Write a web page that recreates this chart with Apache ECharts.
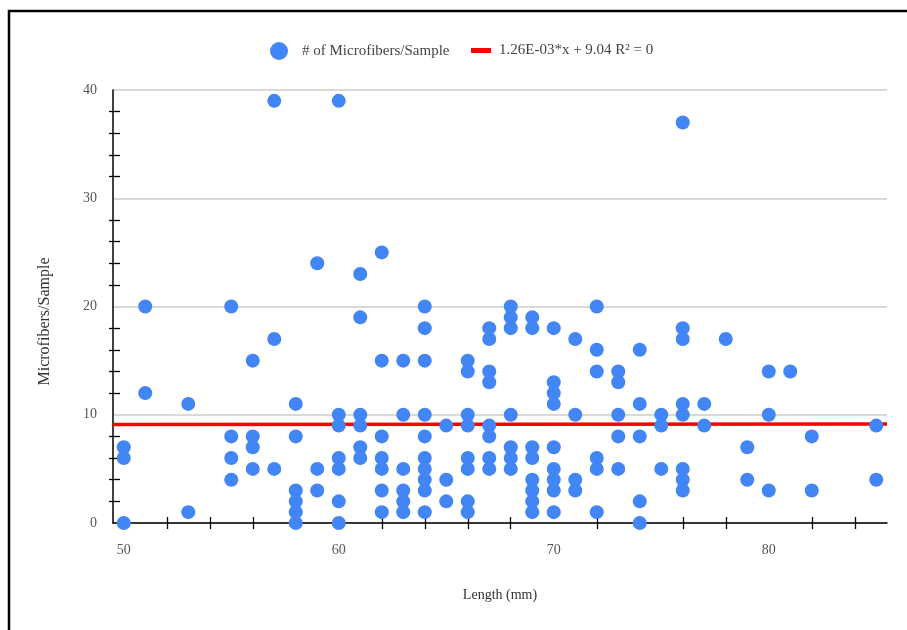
<!DOCTYPE html>
<html>
<head>
<meta charset="utf-8">
<script src="https://cdn.jsdelivr.net/npm/echarts@6/dist/echarts.min.js"></script>
<style>
  html, body { margin: 0; padding: 0; background: #fff; }
  #chart { width: 907px; height: 630px; }
</style>
</head>
<body>
<div id="chart"></div>
<script>
// Fiber length (mm) and the microfiber counts recorded for samples of that length
const lengthsMm = [50, 51, 53, 55, 56, 57, 58, 59, 60, 61, 62, 63, 64, 65, 66, 67,
                   68, 69, 70, 71, 72, 73, 74, 75, 76, 77, 78, 79, 80, 81, 82, 85];
const countsByLength = [
  [7, 6, 0],
  [20, 12],
  [11, 1],
  [20, 8, 6, 4],
  [15, 8, 7, 5],
  [39, 17, 5],
  [11, 8, 3, 2, 1, 0],
  [24, 5, 3],
  [39, 10, 9, 6, 5, 2, 0],
  [23, 19, 10, 9, 7, 6],
  [25, 15, 8, 6, 5, 3, 1],
  [15, 10, 5, 3, 2, 1],
  [20, 18, 15, 10, 8, 6, 5, 4, 3, 1],
  [9, 4, 2],
  [15, 14, 10, 9, 6, 5, 2, 1],
  [18, 17, 14, 13, 9, 8, 6, 5],
  [20, 19, 18, 10, 7, 6, 5],
  [19, 18, 7, 6, 4, 3, 2, 1],
  [18, 13, 12, 11, 7, 5, 4, 3, 1],
  [17, 10, 4, 3],
  [20, 16, 14, 6, 5, 1],
  [14, 13, 10, 8, 5],
  [16, 11, 8, 2, 0],
  [10, 9, 5],
  [37, 18, 17, 11, 10, 5, 4, 3],
  [11, 9],
  [17],
  [7, 4],
  [14, 10, 3],
  [14],
  [8, 3],
  [9, 4]
];

// Axis labels and minor tick positions
const xLabelValues = [50, 60, 70, 80];
const xTickValues = [52, 54, 56, 58, 62, 64, 66, 68, 72, 74, 76, 78, 82, 84];
const yTickValues = [2, 4, 6, 8, 12, 14, 16, 18, 22, 24, 26, 28, 32, 34, 36, 38];

// Linear trendline
const trendSlope = 1.26e-3;
const trendIntercept = 9.04;

const seriesName = '# of Microfibers/Sample';
const trendName = '1.26E-03*x + 9.04 R\u00b2 = 0';

const X_MIN = 49.5, X_MAX = 85.5, Y_MIN = 0, Y_MAX = 40;

const points = [];
lengthsMm.forEach(function (len, i) {
  countsByLength[i].forEach(function (c) { points.push([len, c]); });
});
const trendData = [X_MIN, X_MAX].map(function (x) {
  return [x, trendSlope * x + trendIntercept];
});

const FONT = '"Liberation Serif", "DejaVu Serif", serif';
const chart = echarts.init(document.getElementById('chart'), null, { renderer: 'canvas' });

// Tick-only helper axes draw the small ticks on both sides of the axis lines
function xTickAxis(inside) {
  return {
    type: 'value', min: X_MIN, max: X_MAX, position: 'bottom',
    axisLine: { show: false }, splitLine: { show: false }, axisLabel: { show: false },
    axisTick: { show: true, inside: inside, length: 6, customValues: xTickValues,
                lineStyle: { color: '#000', width: 1.3 } }
  };
}
function yTickAxis(inside) {
  return {
    type: 'value', min: Y_MIN, max: Y_MAX, position: 'left',
    axisLine: { show: false }, splitLine: { show: false }, axisLabel: { show: false },
    axisTick: { show: true, inside: inside, length: inside ? 7 : 4, customValues: yTickValues,
                lineStyle: { color: '#000', width: 1.3 } }
  };
}

chart.setOption({
  animation: false,
  backgroundColor: '#fff',
  textStyle: { fontFamily: FONT },
  graphic: [{
    type: 'rect', silent: true, z: 100,
    shape: { x: 9, y: 11, width: 1000, height: 700 },
    style: { fill: 'none', stroke: '#000', lineWidth: 2.5 }
  }],
  legend: [{
    data: [{ name: seriesName, icon: 'circle' }],
    left: 270, top: 42, padding: 0, itemWidth: 18, itemHeight: 18,
    textStyle: { fontFamily: FONT, fontSize: 15, color: '#444', padding: [0, 0, 0, 9] }
  }, {
    data: [{ name: trendName, icon: 'rect' }],
    left: 471, top: 43, padding: 0, itemWidth: 20, itemHeight: 5,
    textStyle: { fontFamily: FONT, fontSize: 15, color: '#444', padding: [0, 0, 0, 3] }
  }],
  grid: { left: 113, right: 20, top: 90, bottom: 107 },
  xAxis: [{
    type: 'value', min: X_MIN, max: X_MAX,
    name: 'Length (mm)', nameLocation: 'middle', nameGap: 65,
    nameTextStyle: { fontFamily: FONT, fontSize: 14, color: '#333' },
    axisLine: { show: true, lineStyle: { color: '#000', width: 1.5 } },
    axisTick: { show: true, length: 6, customValues: xTickValues,
                lineStyle: { color: '#000', width: 1.3 } },
    axisLabel: { customValues: xLabelValues, margin: 20, fontFamily: FONT, fontSize: 14, color: '#555' },
    splitLine: { show: false }
  }, xTickAxis(true)],
  yAxis: [{
    type: 'value', min: Y_MIN, max: Y_MAX, interval: 10,
    name: 'Microfibers/Sample', nameLocation: 'middle', nameGap: 60, nameRotate: 90,
    nameTextStyle: { fontFamily: FONT, fontSize: 16, color: '#333', padding: [0, 30, 0, 0] },
    axisLine: { show: true, lineStyle: { color: '#000', width: 1.5 } },
    axisTick: { show: false },
    axisLabel: { margin: 16, fontFamily: FONT, fontSize: 14, color: '#555' },
    splitLine: { show: true, lineStyle: { color: '#cccccc', width: 1.5 } }
  }, yTickAxis(false), yTickAxis(true)],
  series: [{
    name: trendName,
    type: 'line',
    data: trendData,
    symbol: 'none',
    lineStyle: { color: '#ff0000', width: 3.5 },
    itemStyle: { color: '#ff0000' },
    z: 2
  }, {
    name: seriesName,
    type: 'scatter',
    data: points,
    symbol: 'circle',
    symbolSize: 14,
    itemStyle: { color: '#4285f4', opacity: 1 },
    z: 3
  }]
});
</script>
</body>
</html>
